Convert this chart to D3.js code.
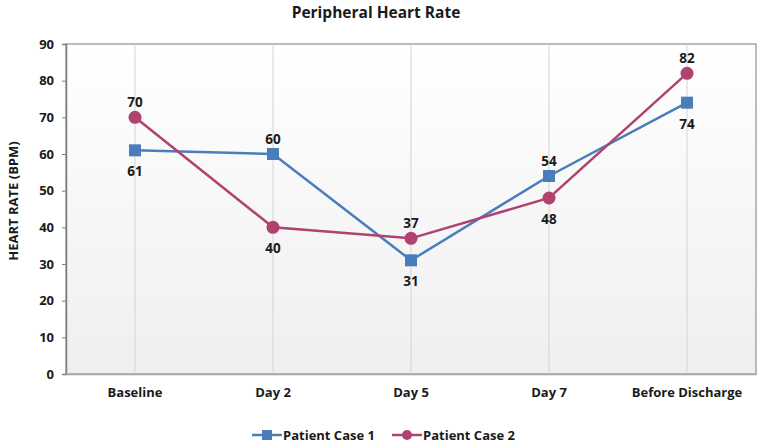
<!DOCTYPE html>
<html><head><meta charset="utf-8">
<script src="https://cdn.jsdelivr.net/npm/d3@7"></script>
<style>body{margin:0;background:#fff;} text{font-family:"Open Sans",sans-serif;font-weight:bold;fill:#1a1a1a;}</style>
</head><body>
<svg id="c" width="762" height="448"></svg>
<script>
const categories = ["Baseline","Day 2","Day 5","Day 7","Before Discharge"];
const case1 = [61,60,31,54,74];
const case2 = [70,40,37,48,82];
const yTicks = [0,10,20,30,40,50,60,70,80,90];
const seriesNames = ["Patient Case 1","Patient Case 2"];
const colors = ["#4a7ebb","#b0426f"];

const svg = d3.select("#c");
const m = {l:66, r:6, t:44, b:74};
const W = 762, H = 448;
const x = d3.scaleBand().domain(categories).range([m.l, W-m.r]);
const y = d3.scaleLinear().domain([0,90]).range([H-m.b, m.t]);

const defs = svg.append("defs");
const g = defs.append("linearGradient").attr("id","bg").attr("x1",0).attr("y1",0).attr("x2",0).attr("y2",1);
g.append("stop").attr("offset",0).attr("stop-color","#ffffff");
g.append("stop").attr("offset",1).attr("stop-color","#efefef");

svg.append("rect").attr("x",m.l).attr("y",m.t).attr("width",W-m.r-m.l).attr("height",H-m.b-m.t)
  .attr("fill","url(#bg)").attr("stroke","#a6a6a6").attr("stroke-width",1.5);

// vertical grid lines
svg.append("g").selectAll("line").data(categories).join("line")
  .attr("x1",d=>x(d)+x.bandwidth()/2).attr("x2",d=>x(d)+x.bandwidth()/2)
  .attr("y1",m.t).attr("y2",H-m.b).attr("stroke","#d4d4d4").attr("stroke-width",1);

// y axis
const ya = svg.append("g").attr("transform",`translate(${m.l},0)`)
  .call(d3.axisLeft(y).tickValues(yTicks).tickSize(4).tickPadding(8));
ya.select(".domain").attr("stroke","#7f7f7f").attr("stroke-width",1.5);
ya.selectAll(".tick line").attr("stroke","#7f7f7f");
ya.selectAll("text").style("font-size","13px").style("font-family","Open Sans").style("font-weight","bold").attr("fill","#1a1a1a");

// x axis labels
const xa = svg.append("g").attr("transform",`translate(0,${H-m.b})`)
  .call(d3.axisBottom(x).tickSize(0).tickPadding(14));
xa.select(".domain").attr("stroke","#a6a6a6").attr("stroke-width",1.5);
xa.selectAll("text").style("font-size","13px").style("font-family","Open Sans").style("font-weight","bold").attr("fill","#1a1a1a");

// title
svg.append("text").attr("x",376).attr("y",18).attr("text-anchor","middle").style("font-size","15.5px").text("Peripheral Heart Rate");
// y label
svg.append("text").attr("transform","translate(18,201) rotate(-90)").attr("text-anchor","middle").style("font-size","13px").text("HEART RATE (BPM)");

const cx = d=>x(d)+x.bandwidth()/2;
const line = d3.line().x((d,i)=>cx(categories[i])).y(d=>y(d));
const series = [case1, case2];
series.forEach((s,k)=>{
  svg.append("path").datum(s).attr("d",line).attr("fill","none").attr("stroke",colors[k]).attr("stroke-width",2.5);
});
// markers
svg.append("g").selectAll("rect").data(case1).join("rect")
  .attr("x",(d,i)=>cx(categories[i])-6).attr("y",d=>y(d)-6).attr("width",12).attr("height",12).attr("fill",colors[0]);
svg.append("g").selectAll("circle").data(case2).join("circle")
  .attr("cx",(d,i)=>cx(categories[i])).attr("cy",d=>y(d)).attr("r",6.5).attr("fill",colors[1]);

// labels
const pos1 = ["below","above","below","above","below"];
const pos2 = ["above","below","above","below","above"];
function labels(s,pos){
  svg.append("g").selectAll("text").data(s).join("text")
    .attr("x",(d,i)=>cx(categories[i])).attr("y",(d,i)=>pos[i]==="above"? y(d)-10 : y(d)+26)
    .attr("text-anchor","middle").style("font-size","13.5px").text(d=>d);
}
labels(case1,pos1); labels(case2,pos2);

// legend
const leg = svg.append("g").attr("transform","translate(252,435)");
const items = [{x:0},{x:140}];
items.forEach((it,k)=>{
  const gg = leg.append("g").attr("transform",`translate(${it.x},0)`);
  gg.append("line").attr("x1",0).attr("x2",30).attr("y1",0).attr("y2",0).attr("stroke",colors[k]).attr("stroke-width",2.5);
  if(k===0) gg.append("rect").attr("x",10).attr("y",-5).attr("width",10).attr("height",10).attr("fill",colors[k]);
  else gg.append("circle").attr("cx",15).attr("cy",0).attr("r",5).attr("fill",colors[k]);
  gg.append("text").attr("x",31).attr("y",5).style("font-size","13px").text(seriesNames[k]);
});
</script>
</body></html>
